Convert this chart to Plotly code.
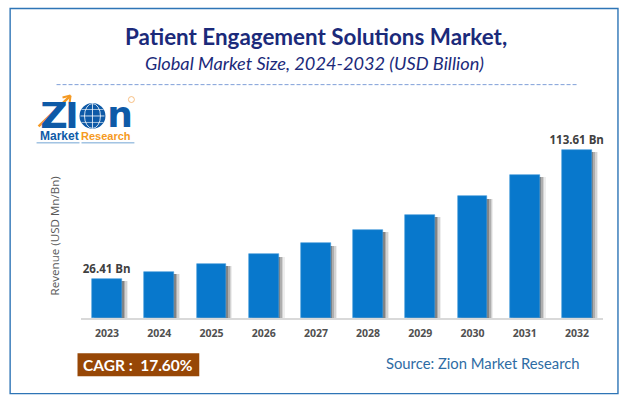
import plotly.graph_objects as go

years = ["2023","2024","2025","2026","2027","2028","2029","2030","2031","2032"]
revenue = [26.41,31.0,36.5,43.0,50.5,59.4,69.9,82.2,96.6,113.61]
labels = ["26.41 Bn","","","","","","","","","113.61 Bn"]

W, H = 626, 404
L, R, T, B = 80.5, 22.5, 110.5, 85.5
PW, PH = W - L - R, H - T - B
def px(x): return (x - L) / PW
def py(y): return (T + PH - y) / PH

fig = go.Figure()
BW = 0.574
for off, col in [(0.115, "rgba(90,90,90,0.10)"), (0.09, "rgba(90,90,90,0.18)"), (0.06, "rgba(90,90,90,0.30)"), (0.03, "rgba(80,80,80,0.45)")]:
    fig.add_bar(x=years, y=[v - 1.5 for v in revenue], width=BW, offset=-BW/2 + off,
                marker=dict(color=col, line_width=0), hoverinfo="skip", showlegend=False)
fig.add_bar(x=years, y=revenue, width=BW, offset=-BW/2, text=labels, textposition="outside",
            textangle=0, cliponaxis=False, constraintext="none",
            textfont=dict(family="Open Sans", size=11.5, color="#404040", weight="bold"),
            marker=dict(color="#0878CC", line=dict(color="#3F97DA", width=0.6)), showlegend=False)

def rect(x0, y0, x1, y1, **kw):
    return dict(type="rect", xref="paper", yref="paper", x0=px(x0), x1=px(x1), y0=py(y0), y1=py(y1), **kw)
def circ(x0, y0, x1, y1, **kw):
    return dict(type="circle", xref="paper", yref="paper", x0=px(x0), x1=px(x1), y0=py(y0), y1=py(y1), **kw)
def line(x0, y0, x1, y1, color, width=1, dash="solid", layer="above"):
    return dict(type="line", xref="paper", yref="paper", x0=px(x0), x1=px(x1), y0=py(y0), y1=py(y1),
                line=dict(color=color, width=width, dash=dash), layer=layer)
def txt(x, y, s, size, color, family="Lato", anchor="center", **f):
    return dict(xref="paper", yref="paper", x=px(x), y=py(y), text=s, showarrow=False, xanchor=anchor,
                yanchor="middle", font=dict(family=family, size=size, color=color, **f))

shapes = [
    rect(9.5, 7.5, 618.5, 394.5, line=dict(color="#2E75B6", width=1.4), fillcolor="rgba(0,0,0,0)"),
    line(56, 84, 578, 84, "#7F9FD8", 1, "4px,2px"),
    rect(77, 354, 199, 377, fillcolor="#974706", line_width=0),
    # logo
    circ(79, 102.5, 105, 128.5, fillcolor="#0E5AA7", line_width=0),
    circ(84, 103, 100, 128, fillcolor="rgba(0,0,0,0)", line=dict(color="white", width=0.8)),
    line(92, 103, 92, 128, "white", 0.8),
    line(80, 115.5, 104, 115.5, "white", 0.8),
    line(81, 109, 103, 109, "white", 0.6),
    line(81, 122, 103, 122, "white", 0.6),
    line(38, 126, 70, 95, "#F59A23", 2.5),
    line(70, 95, 62, 97, "#F59A23", 2),
    line(70, 95, 69, 103, "#F59A23", 2),
    circ(128, 96, 134, 102, fillcolor="rgba(0,0,0,0)", line=dict(color="#F5B066", width=0.8)),
    line(36, 142.5, 79, 142.5, "#4F8FC9", 0.8),
    line(81, 142.5, 134, 142.5, "#4F8FC9", 0.8),
]
annotations = [
    txt(315.5, 35.5, "<b>Patient Engagement Solutions Market,</b>", 22.4, "#1B2A7A"),
    txt(314.5, 62.5, "<i>Global Market Size, 2024-2032 (USD Billion)</i>", 18.2, "#1B2A7A"),
    txt(54, 236, "Revenue (USD Mn/Bn)", 11.6, "#595959", family="Open Sans") | dict(textangle=-90),
    txt(138, 365.5, "<b>CAGR :  17.60%</b>", 15.5, "#FFFFFF"),
    txt(483, 364, "Source: Zion Market Research", 14.8, "#2E6CA4"),
    txt(53, 115, "<b>Z</b>", 38, "#0E5AA7", family="DejaVu Sans") | dict(height=26, width=30),
    txt(71.5, 115, "<b>I</b>", 36, "#0E5AA7", family="DejaVu Sans") | dict(height=26, width=12),
    txt(120, 114, "<b>n</b>", 36, "#0E5AA7", family="DejaVu Sans") | dict(height=26, width=26),
    txt(58.5, 136, "<b>Market</b>", 12, "#0E5AA7", family="Liberation Sans"),
    txt(106, 136, "<b>Research</b>", 11, "#F59A23", family="Liberation Sans"),
]

fig.update_layout(
    width=W, height=H, autosize=False, barmode="overlay", bargap=0,
    margin=dict(l=L, r=R, t=T, b=B, pad=0),
    paper_bgcolor="white", plot_bgcolor="white",
    xaxis=dict(type="category", range=[-0.5, 9.5], showgrid=False, ticks="", showline=True,
               linecolor="#D9D9D9", linewidth=1.5,
               tickfont=dict(family="Open Sans", size=10.5, color="#505050", weight="bold"), ticklabelstandoff=5),
    yaxis=dict(range=[0, 140], visible=False, showgrid=False),
    shapes=shapes, annotations=annotations,
)
fig.write_html("out.html", config={"displayModeBar": False},
               post_script="document.body.style.margin='0';")
